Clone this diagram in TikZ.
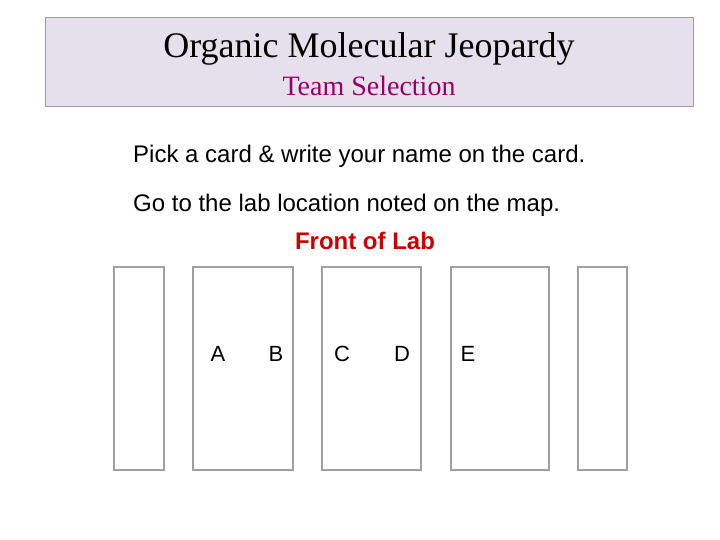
\documentclass[tikz,border=0pt]{standalone}
\usepackage{fontspec}
\setmainfont{Liberation Serif}
\setsansfont{Liberation Sans}
\usepackage{tikz}
\usetikzlibrary{positioning}
\definecolor{banner}{RGB}{230, 224, 236}
\definecolor{edge}{RGB}{160, 160, 160}
\definecolor{subtitle}{RGB}{153, 0, 102}
\definecolor{front}{RGB}{204, 0, 0}

\begin{document}
\begin{tikzpicture}[x=1pt,y=-1pt,
  header/.style={draw=edge,fill=banner,line width=1pt},
  card/.style={draw=edge,line width=2pt,inner sep=0pt},
  line/.style={font=\sffamily\fontsize{24}{28}\selectfont,anchor=west,inner sep=0pt},
  seat/.style={font=\sffamily\fontsize{22}{26}\selectfont,inner sep=0pt}]
  \useasboundingbox (0,0) rectangle (720,540);
  \draw[header] (45,18) rectangle (693,107);
  \node (title) at (369,49) {\fontsize{36}{40}\selectfont Organic Molecular Jeopardy};
  \node[text=subtitle] (sub) at (369,86) {\fontsize{28}{32}\selectfont Team Selection};
  \node[line] (pick) at (133,156) {Pick a card \& write your name on the card.};
  \node[line] (go) at (133,205) {Go to the lab location noted on the map.};
  \node[text=front,font=\sffamily\bfseries\fontsize{24}{28}\selectfont] (lab) at (365,241) {Front of Lab};
  % tables
  \draw[card] (114,267) rectangle (164,470);
  \draw[card] (193,267) rectangle (293,470);
  \draw[card] (322,267) rectangle (421,470);
  \draw[card] (451,267) rectangle (549,470);
  \draw[card] (578,267) rectangle (627,470);
  \node[seat] (a) at (218,354) {A};
  \node[seat] (b) at (276,354) {B};
  \node[seat] (c) at (342,354) {C};
  \node[seat] (d) at (402,354) {D};
  \node[seat] (e) at (468,354) {E};
\end{tikzpicture}
\end{document}
